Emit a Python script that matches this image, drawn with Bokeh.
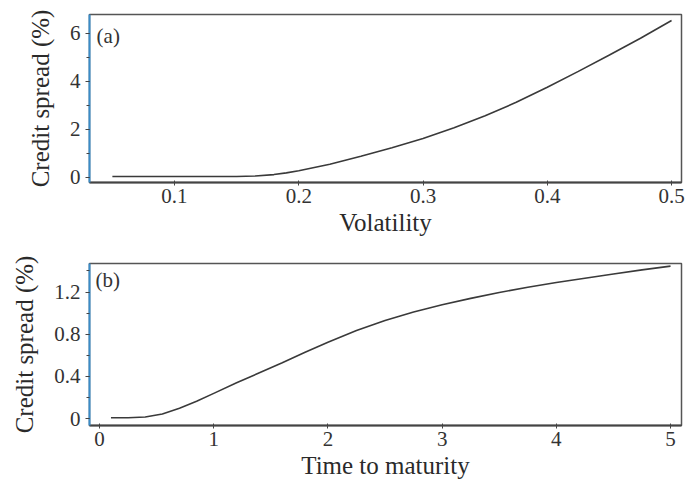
from bokeh.plotting import figure
from bokeh.layouts import column
from bokeh.models import Range1d, FixedTicker, Label
from bokeh.embed import file_html
from bokeh.resources import INLINE

# Panel (a): credit spread vs volatility
volatility = [0.05, 0.1, 0.15, 0.165, 0.18, 0.19, 0.2, 0.225, 0.25, 0.275,
              0.3, 0.325, 0.35, 0.375, 0.4, 0.425, 0.45, 0.475, 0.5]
spread_vol = [0.04, 0.04, 0.04, 0.06, 0.12, 0.19, 0.28, 0.55, 0.88, 1.24,
              1.62, 2.07, 2.57, 3.13, 3.76, 4.42, 5.1, 5.8, 6.54]
vol_ticks = [0.1, 0.2, 0.3, 0.4, 0.5]
vol_tick_labels = ["0.1", "0.2", "0.3", "0.4", "0.5"]
spread_a_ticks = [0, 2, 4, 6]

# Panel (b): credit spread vs time to maturity
maturity = [0.1, 0.25, 0.4, 0.55, 0.7, 0.85, 1.0, 1.2, 1.4, 1.6, 1.8, 2.0,
            2.25, 2.5, 2.75, 3.0, 3.25, 3.5, 3.75, 4.0, 4.25, 4.5, 4.75, 5.0]
spread_mat = [0.01, 0.01, 0.017, 0.045, 0.10, 0.165, 0.24, 0.34, 0.435, 0.53, 0.63, 0.725,
              0.835, 0.93, 1.01, 1.08, 1.14, 1.195, 1.245, 1.29, 1.33, 1.37, 1.41, 1.445]
mat_ticks = [0, 1, 2, 3, 4, 5]
spread_b_ticks = [0, 0.4, 0.8, 1.2]
spread_b_tick_labels = {0: "0", 0.4: "0.4", 0.8: "0.8", 1.2: "1.2"}

FONT = "Liberation Serif"
LINE = "#3a3a3a"
YAXIS = "#3a8cc8"


def style(p, xlabel, ylabel):
    p.grid.grid_line_color = None
    p.outline_line_color = "#555555"
    p.outline_line_width = 1.5
    p.background_fill_color = "white"
    p.border_fill_color = "white"
    for ax in (p.xaxis[0], p.yaxis[0]):
        ax.major_label_text_font = FONT
        ax.major_label_text_font_size = "21px"
        ax.major_label_text_color = "#333333"
        ax.axis_label_text_font = FONT
        ax.axis_label_text_font_size = "25px"
        ax.axis_label_text_font_style = "normal"
        ax.axis_label_text_color = "#2a2a2a"
        ax.major_tick_line_color = "#444444"
        ax.minor_tick_line_color = "#444444"
        ax.axis_line_width = 2
    p.xaxis.axis_label = xlabel
    p.yaxis.axis_label = ylabel
    p.xaxis.axis_line_color = "#444444"
    p.yaxis.axis_line_color = YAXIS
    p.xaxis.major_tick_out = 3
    p.xaxis.major_tick_in = 2
    p.xaxis.minor_tick_line_color = None
    p.xaxis.major_label_standoff = 3
    p.xaxis.axis_label_standoff = 3
    p.yaxis.major_tick_out = 4
    p.yaxis.major_tick_in = 0
    p.yaxis.minor_tick_out = 3
    p.yaxis.minor_tick_in = 0
    p.yaxis.major_label_standoff = 5
    p.yaxis.axis_label_standoff = 13


pa = figure(width=689, height=250, output_backend="svg", toolbar_location=None,
            x_range=Range1d(0.0316, 0.508), y_range=Range1d(-0.21, 6.79),
            min_border_left=89, min_border_right=8, min_border_top=14,
            min_border_bottom=68)
pa.line(volatility, spread_vol, line_color=LINE, line_width=1.6)
style(pa, "Volatility", "Credit spread (%)")
pa.xaxis.ticker = FixedTicker(ticks=vol_ticks)
pa.xaxis.major_label_overrides = dict(zip(vol_ticks, vol_tick_labels))
pa.yaxis.ticker = FixedTicker(ticks=spread_a_ticks, minor_ticks=[0, 1, 2, 3, 4, 5, 6])
pa.add_layout(Label(x=0.0373, y=6.4, text="(a)", text_font=FONT,
                    text_font_size="21px", text_color="#333333",
                    text_baseline="top"))

pb = figure(width=689, height=231, output_backend="svg", toolbar_location=None,
            x_range=Range1d(-0.088, 5.096), y_range=Range1d(-0.064, 1.47),
            min_border_left=89, min_border_right=8, min_border_top=13,
            min_border_bottom=49)
pb.line(maturity, spread_mat, line_color=LINE, line_width=1.6)
style(pb, "Time to maturity", "Credit spread (%)")
pb.xaxis.ticker = FixedTicker(ticks=mat_ticks)
pb.yaxis.ticker = FixedTicker(ticks=spread_b_ticks,
                              minor_ticks=[0, 0.2, 0.4, 0.6, 0.8, 1.0, 1.2, 1.4])
pb.yaxis.major_label_overrides = spread_b_tick_labels
pb.add_layout(Label(x=-0.035, y=1.43, text="(b)", text_font=FONT,
                    text_font_size="21px", text_color="#333333",
                    text_baseline="top"))

layout = column(pa, pb, spacing=0)
open("out.html", "w").write(file_html(layout, INLINE))
